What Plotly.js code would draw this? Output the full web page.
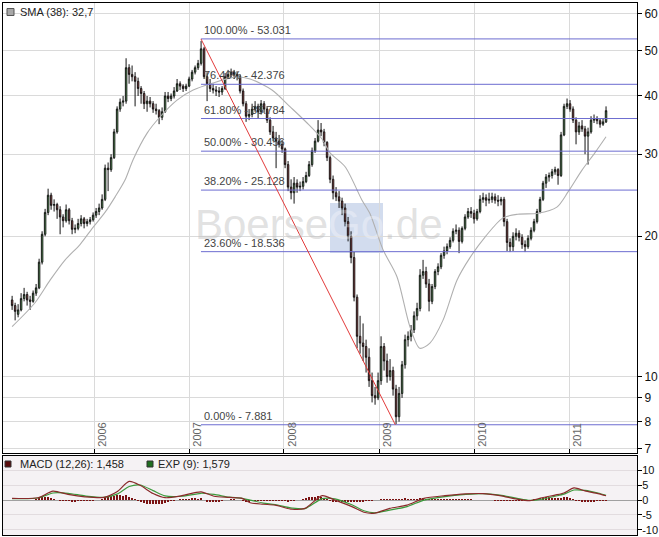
<!DOCTYPE html>
<html>
<head>
<meta charset="utf-8">
<script src="https://cdn.plot.ly/plotly-3.0.1.min.js"></script>
<style>html,body{margin:0;padding:0;background:#fff;}#chart{width:659px;height:537px;}</style>
</head>
<body>
<div id="chart"></div>
<script>
// ---------------- DATA ----------------
const candleStart = '2005-02-20';
const candleEnd = '2011-05-23';

const opens = [
14.6,14.2,13.6,13.9,14.7,15.0,14.6,14.5,15.1,15.5,
17.6,20.2,22.5,24.5,23.3,23.4,22.8,22.0,21.6,22.8,
21.6,20.7,20.8,21.3,21.8,21.3,21.5,21.7,22.2,22.6,
23.0,24.0,28.0,27.8,29.5,33.5,37.5,38.8,39.0,46.0,
44.5,44.0,43.0,41.5,40.5,38.5,39.0,38.5,37.5,37.2,
36.0,37.0,40.0,39.5,40.0,41.0,42.5,42.0,41.5,42.0,
43.5,45.0,46.0,47.0,50.5,44.0,42.5,41.5,41.2,41.0,
40.8,41.5,44.0,44.5,45.0,44.5,44.0,41.0,38.5,36.2,
36.5,37.5,38.0,37.0,38.5,37.5,35.5,33.5,32.5,32.0,
31.5,30.8,28.5,25.5,24.8,26.0,25.5,25.6,26.2,27.0,
28.5,30.5,32.0,33.8,33.5,31.8,29.5,26.5,24.8,24.3,
23.8,23.0,21.5,20.0,18.0,14.8,12.2,11.8,11.6,11.0,
9.8,9.1,9.0,9.8,11.6,10.8,10.0,10.3,9.4,8.2,
9.2,10.6,12.0,12.2,12.6,13.5,14.0,16.5,16.8,15.8,
14.5,15.6,16.8,17.2,18.2,18.6,19.0,19.6,20.5,20.6,
19.5,20.8,22.0,22.6,22.4,21.8,22.6,24.0,24.2,23.9,
24.0,24.3,23.9,23.8,24.0,21.5,19.4,19.0,20.0,20.3,
19.9,19.2,19.0,19.8,20.6,21.5,22.6,24.0,26.0,26.8,
27.0,27.5,27.8,27.0,33.0,38.0,38.5,37.5,35.5,33.5,
34.5,34.0,32.8,33.5,35.5,35.8,35.4,34.8,35.2];

const highs = [
14.9,14.4,14.3,15.1,15.5,15.2,14.9,15.3,15.8,17.9,
20.5,22.9,25.3,24.8,24.0,23.6,23.2,22.3,23.4,23.0,
21.9,21.2,21.8,22.2,22.0,21.8,22.0,22.5,23.0,23.5,
24.6,28.5,28.8,30.0,34.0,38.0,39.5,40.0,48.2,46.8,
46.5,45.0,43.8,42.0,41.0,40.0,39.8,39.0,38.5,37.5,
37.8,40.8,40.8,40.5,41.8,43.5,43.0,42.4,42.5,44.0,
45.5,46.5,47.8,52.5,51.0,45.0,43.5,42.5,42.0,41.8,
42.0,44.8,45.5,45.8,45.5,45.2,44.5,41.5,39.0,37.5,
38.5,39.0,38.5,39.2,39.0,38.0,36.0,34.5,33.5,33.0,
32.2,31.0,29.0,26.5,26.8,26.5,26.2,26.8,27.5,29.0,
31.0,32.5,35.5,35.0,34.0,32.0,29.8,27.0,25.5,25.0,
24.2,23.5,22.0,20.5,18.5,15.0,13.5,13.0,12.0,11.5,
10.2,9.5,10.2,12.2,11.8,11.2,10.9,10.5,9.6,9.5,
10.8,12.3,12.5,12.9,13.8,14.4,17.0,17.8,17.2,16.2,
15.8,17.0,17.5,18.4,19.0,19.3,19.9,20.8,21.2,20.9,
21.0,22.3,23.0,23.1,22.8,22.9,24.5,24.8,24.6,24.8,
24.8,24.7,24.5,24.3,24.3,21.8,19.8,20.4,20.8,20.6,
20.2,19.6,20.1,20.9,21.8,22.9,24.3,26.3,27.2,27.4,
27.9,28.2,28.0,33.5,38.5,39.5,39.2,38.0,36.0,35.2,
35.5,34.5,34.2,36.2,36.5,36.2,35.8,35.8,38.0];

const lows = [
13.9,13.2,13.4,13.8,14.5,14.2,13.9,14.4,14.9,15.4,
17.4,20.0,22.2,22.8,22.6,21.8,20.2,20.9,21.4,21.2,
20.2,20.3,20.6,21.0,20.8,21.0,21.2,21.5,21.9,22.2,
22.8,23.8,25.0,27.5,29.3,33.2,37.0,38.0,38.5,42.5,
43.0,38.0,40.0,38.5,37.5,37.0,37.8,36.8,36.5,34.8,
35.5,36.8,38.8,39.0,39.5,40.8,41.2,40.8,41.0,41.8,
43.0,44.5,45.5,46.5,43.5,39.0,40.8,40.5,40.0,39.8,
40.2,41.2,43.5,43.8,43.5,43.2,40.5,38.0,35.2,35.5,
36.0,37.0,35.8,36.5,36.8,35.0,33.0,32.0,28.0,31.0,
30.2,28.0,25.0,24.0,23.5,24.8,25.0,25.2,26.0,26.8,
28.2,30.2,31.8,32.8,31.2,29.0,26.0,24.0,23.8,23.0,
22.2,21.0,19.5,17.5,14.5,11.5,11.2,10.8,10.2,9.5,
8.8,8.7,8.9,9.6,10.3,9.7,9.8,9.1,7.9,8.0,
9.0,10.4,11.6,11.9,12.4,13.2,13.8,16.2,15.5,13.8,
14.3,15.4,16.5,17.0,17.9,18.3,18.8,19.4,20.2,18.4,
19.3,20.6,21.8,21.9,21.3,21.6,22.4,23.6,23.2,23.5,
23.6,23.5,23.2,23.3,21.0,18.6,18.5,18.6,19.6,19.5,
18.8,18.5,18.8,19.6,20.4,21.3,22.4,23.8,25.4,26.2,
26.6,27.1,25.8,26.8,32.8,37.5,37.0,35.0,31.5,33.0,
33.5,30.0,28.5,33.2,35.0,34.8,34.2,34.5,35.0];

const closes = [
14.2,13.8,13.9,14.7,15.0,14.6,14.5,15.1,15.5,17.6,
20.2,22.5,24.5,23.3,23.4,22.8,22.0,21.6,22.8,21.6,
20.7,20.8,21.3,21.8,21.3,21.5,21.7,22.2,22.6,23.0,
24.0,28.0,27.8,29.5,33.5,37.5,38.8,39.0,46.0,44.5,
44.0,43.0,41.5,40.5,38.5,39.0,38.5,37.5,37.2,36.0,
37.0,40.0,39.5,40.0,41.0,42.5,42.0,41.5,42.0,43.5,
45.0,46.0,47.0,50.5,44.0,42.5,41.5,41.2,41.0,40.8,
41.5,44.0,44.5,45.0,44.5,44.0,41.0,38.5,36.2,36.5,
37.5,38.0,37.0,38.5,37.5,35.5,33.5,32.5,32.0,31.5,
30.8,28.5,25.5,24.8,26.0,25.5,25.6,26.2,27.0,28.5,
30.5,32.0,33.8,33.5,31.8,29.5,26.5,24.8,24.3,23.8,
23.0,21.5,20.0,18.0,14.8,12.2,11.8,11.6,11.0,9.8,
9.1,9.0,9.8,11.6,10.8,10.0,10.3,9.4,8.2,9.2,
10.6,12.0,12.2,12.6,13.5,14.0,16.5,16.8,15.8,14.5,
15.6,16.8,17.2,18.2,18.6,19.0,19.6,20.5,20.6,19.5,
20.8,22.0,22.6,22.4,21.8,22.6,24.0,24.2,23.9,24.0,
24.3,23.9,23.8,24.0,21.5,19.4,19.0,20.0,20.3,19.9,
19.2,19.0,19.8,20.6,21.5,22.6,24.0,26.0,26.8,27.0,
27.5,27.8,27.0,33.0,38.0,38.5,37.5,35.5,33.5,34.5,
34.0,32.8,33.5,35.5,35.8,35.4,34.8,35.2,37.2];

const macdHist = [
0.05,0.1,0.05,0.1,0.1,0.05,0,0.05,0.2,0.6,
0.9,1.0,0.9,0.6,0.3,0.1,-0.2,-0.4,-0.3,-0.4,
-0.5,-0.5,-0.4,-0.4,-0.4,-0.3,-0.3,-0.2,-0.1,0.1,
0.4,1.0,1.2,1.4,1.5,1.6,1.7,1.5,1.6,1.2,
0.8,0.3,-0.2,-0.6,-1.0,-1.2,-1.3,-1.4,-1.4,-1.3,
-1.2,-0.9,-0.7,-0.4,-0.2,0,0.2,0.3,0.4,0.5,
0.6,0.6,0.5,0.6,0,-0.5,-0.6,-0.6,-0.5,-0.5,
-0.3,0,0.1,0.2,0.2,0.1,-0.1,-0.4,-0.6,-0.5,
-0.4,-0.3,-0.3,-0.2,-0.2,-0.3,-0.4,-0.4,-0.4,-0.3,
-0.3,-0.4,-0.5,-0.4,-0.2,-0.1,0.1,0.3,0.6,0.9,
1.1,1.2,1.3,1.1,0.7,0.2,-0.3,-0.5,-0.6,-0.6,
-0.6,-0.6,-0.6,-0.6,-0.7,-0.7,-0.6,-0.5,-0.4,-0.3,
-0.2,-0.1,0.1,0.4,0.4,0.3,0.3,0.3,0.3,0.4,
0.5,0.6,0.5,0.5,0.5,0.5,0.6,0.6,0.5,0.4,
0.4,0.4,0.4,0.5,0.5,0.5,0.5,0.5,0.4,0.3,
0.3,0.3,0.3,0.2,0.1,0.1,0.1,0.1,0,0,
-0.1,-0.2,-0.2,-0.2,-0.3,-0.4,-0.4,-0.3,-0.3,-0.3,
-0.3,-0.2,-0.1,0,0.2,0.4,0.6,0.8,0.9,0.9,
0.8,0.8,0.6,0.8,1.1,1.0,0.6,0.2,-0.2,-0.4,
-0.5,-0.6,-0.6,-0.5,-0.5,-0.4,-0.4,-0.3,-0.2];

const smaDates = ['2005-02-20','2005-05-19','2005-07-16','2005-09-12','2005-11-08','2005-12-28',
'2006-02-12','2006-03-23','2006-04-30','2006-05-31','2006-07-24','2006-09-12','2006-11-16',
'2007-01-17','2007-03-31','2007-06-27','2007-08-24','2007-11-16',
'2008-01-25','2008-03-30','2008-05-27','2008-06-26','2008-08-23','2008-10-27','2008-11-26',
'2009-01-16','2009-03-10','2009-04-29','2009-06-06','2009-07-15','2009-09-03','2009-10-27','2009-12-16',
'2010-02-11','2010-04-22','2010-06-18','2010-09-03','2010-11-15','2010-12-28',
'2011-02-19','2011-04-10','2011-05-23'];
const smaValues = [12.8,14.4,16.1,17.8,19.2,20.9,
22.5,24.3,26.4,29.2,33.3,36.1,39.2,
41.2,42.6,43.9,43.5,41.2,
37.9,35.0,32.3,30.2,28.2,23.9,22.4,
18.7,16.4,12.8,11.5,11.8,13.2,16.1,18.0,
19.9,21.9,22.3,22.4,23.1,24.9,
27.7,30.2,32.7];

const macdDates = ['2005-02-20','2005-05-31','2005-07-27','2005-09-23','2005-11-27',
'2006-02-08','2006-03-30','2006-05-16','2006-06-27','2006-08-16','2006-10-01','2006-12-05',
'2007-02-16','2007-04-07','2007-06-04','2007-07-24','2007-08-24','2007-10-13','2007-11-28',
'2008-02-01','2008-03-22','2008-05-27','2008-07-15','2008-09-18','2008-11-03','2008-12-15',
'2009-02-11','2009-04-18','2009-06-22','2009-09-11','2009-11-30',
'2010-02-04','2010-04-10','2010-06-15','2010-08-03','2010-09-19','2010-11-08','2010-12-12',
'2011-01-20','2011-03-03','2011-04-22','2011-05-23'];
const macdValues = [0.6,0.8,3.0,1.9,1.1,0.9,2.8,6.3,5.0,2.2,0.8,1.5,2.8,1.3,0.9,0.6,-0.9,-1.4,-1.7,-3.1,
-2.8,1.5,0.0,-2.2,-4.1,-4.4,-2.8,-1.7,0.6,1.5,2.1,2.2,1.5,0.3,-0.2,0.8,1.7,2.4,4.1,3.1,2.2,1.458];
const signalValues = [0.5,0.7,2.4,2.3,1.4,0.9,2.0,4.6,5.1,3.2,1.4,1.3,2.3,1.9,1.0,0.6,0.0,-1.0,-1.5,-2.7,
-2.9,0.5,0.4,-1.6,-3.6,-4.3,-3.4,-2.2,0.0,1.2,1.9,2.2,1.7,0.6,-0.1,0.3,1.3,2.0,3.4,3.3,2.4,1.579];

const fibPercents = ['100.00%','76.40%','61.80%','50.00%','38.20%','23.60%','0.00%'];
const fibLevels = [53.031,42.376,35.784,30.456,25.128,18.536,7.881];
const fibStartDate = '2007-02-16';
const trendDates = ['2007-02-16','2009-03-04'];
const trendValues = [53.031,7.881];

const yearDates = ['2006-01-01','2007-01-01','2008-01-01','2009-01-01','2010-01-01','2011-01-01'];
const yearLabels = ['2006','2007','2008','2009','2010','2011'];
const priceTicks = [7,8,9,10,20,30,40,50,60];
const macdTicks = [-10,-5,0,5,10];
const macdTickLabels = ['-10','-5','0','5','10'];

const smaLabel = 'SMA (38): 32,7';
const macdLabel = 'MACD (12,26): 1,458';
const expLabel = 'EXP (9): 1,579';

// ---------------- BUILD ----------------
const xRange = ['2005-01-16','2011-09-19'];
const t0 = Date.parse(candleStart + 'T00:00:00Z'), t1 = Date.parse(candleEnd + 'T00:00:00Z');
const n = closes.length;
const fmt = ms => new Date(ms).toISOString().slice(0,19).replace('T',' ');
const candleDates = closes.map((_, i) => fmt(t0 + (t1 - t0) * i / (n - 1)));

// pixel helpers for layout decorations (plot area spans x 3..637, y 3..535)
const PL = 3, PR = 637, PT = 3, PB = 535;
const px = x => (x - PL) / (PR - PL);
const py = y => (PB - y) / (PB - PT);

const FONT = 'Liberation Sans, Arial, sans-serif';
const fibColor = '#6c6cd0';

const traces = [];
traces.push({type:'scatter', mode:'lines', x:smaDates, y:smaValues, xaxis:'x', yaxis:'y',
  line:{color:'#b0b0b0', width:1.1, shape:'spline', smoothing:0.8}, hoverinfo:'skip'});
traces.push({type:'candlestick', x:candleDates, open:opens, high:highs, low:lows, close:closes,
  xaxis:'x', yaxis:'y', whiskerwidth:0,
  increasing:{line:{color:'#141414', width:1}, fillcolor:'#6fcf6f'},
  decreasing:{line:{color:'#141414', width:1}, fillcolor:'#c94a4a'},
  hoverinfo:'skip'});
fibLevels.forEach(v => {
  traces.push({type:'scatter', mode:'lines', x:[fibStartDate, xRange[1]], y:[v, v], xaxis:'x', yaxis:'y',
    line:{color:fibColor, width:1}, hoverinfo:'skip'});
});
traces.push({type:'scatter', mode:'lines', x:trendDates, y:trendValues, xaxis:'x', yaxis:'y',
  line:{color:'#e23a3a', width:1}, hoverinfo:'skip'});

// MACD panel
traces.push({type:'bar', x:candleDates, y:macdHist, xaxis:'x2', yaxis:'y2',
  marker:{color:'#7a1212', line:{width:0}}, width:7*86400000, hoverinfo:'skip'});
traces.push({type:'scatter', mode:'lines', x:macdDates, y:signalValues, xaxis:'x2', yaxis:'y2',
  line:{color:'#3c9a3c', width:1.2, shape:'spline', smoothing:0.7}, hoverinfo:'skip'});
traces.push({type:'scatter', mode:'lines', x:macdDates, y:macdValues, xaxis:'x2', yaxis:'y2',
  line:{color:'#8a2a2a', width:1.2, shape:'spline', smoothing:0.7}, hoverinfo:'skip'});

const annotations = [];
fibLevels.forEach((v, i) => {
  annotations.push({xref:'x', yref:'y', x:fibStartDate, y:Math.log10(v), xanchor:'left', yanchor:'bottom',
    xshift:1, yshift:1, showarrow:false, text:fibPercents[i] + ' - ' + v.toFixed(3),
    font:{family:FONT, size:11, color:'#444'}});
});
yearDates.forEach((d, i) => {
  annotations.push({xref:'x', yref:'y domain', x:d, y:0, xanchor:'left', yanchor:'bottom', textangle:-90,
    xshift:0, yshift:4, showarrow:false, text:yearLabels[i], font:{family:FONT, size:11, color:'#666'}});
});
annotations.push({xref:'paper', yref:'paper', x:px(18), y:py(12), xanchor:'left', yanchor:'middle',
  showarrow:false, text:smaLabel, font:{family:FONT, size:11, color:'#222'}});
annotations.push({xref:'paper', yref:'paper', x:px(18), y:py(464), xanchor:'left', yanchor:'middle',
  showarrow:false, text:macdLabel, font:{family:FONT, size:11, color:'#222'}});
annotations.push({xref:'paper', yref:'paper', x:px(156), y:py(464), xanchor:'left', yanchor:'middle',
  showarrow:false, text:expLabel, font:{family:FONT, size:11, color:'#222'}});
annotations.push({xref:'paper', yref:'paper', x:px(319), y:py(225), xanchor:'center', yanchor:'middle',
  showarrow:false, text:"Boerse<span style='color:rgba(255,255,255,0.75)'>Go</span>.de",
  font:{family:FONT, size:42, color:'rgba(190,190,190,0.45)'}});

const shapes = [
  {type:'rect', xref:'paper', yref:'y2 domain', x0:0, x1:1, y0:0, y1:1, fillcolor:'#f5f2f4', line:{width:0}, layer:'below'},
  {type:'rect', xref:'paper', yref:'paper', x0:px(330), x1:px(383), y0:py(253), y1:py(203), fillcolor:'#d2dcee', line:{width:0}, layer:'below'},
  {type:'rect', xref:'paper', yref:'paper', x0:px(7), x1:px(14), y0:py(15.5), y1:py(8.5), fillcolor:'#a8a8a8', line:{color:'#555', width:1}},
  {type:'rect', xref:'paper', yref:'paper', x0:px(5), x1:px(11), y0:py(467), y1:py(461), fillcolor:'#5a0c0c', line:{color:'#333', width:1}},
  {type:'rect', xref:'paper', yref:'paper', x0:px(147), x1:px(153), y0:py(467), y1:py(461), fillcolor:'#1f6e1f', line:{color:'#333', width:1}}
];

const layout = {
  width:659, height:537,
  margin:{l:PL, r:659-PR, t:PT, b:537-PB, pad:0},
  paper_bgcolor:'#ffffff', plot_bgcolor:'#ffffff',
  showlegend:false,
  font:{family:FONT, size:11, color:'#222'},
  xaxis:{domain:[0,1], anchor:'y', type:'date', range:xRange, tickvals:yearDates, showticklabels:false,
    ticks:'inside', ticklen:4, tickcolor:'#000', showgrid:true, gridcolor:'#dadada', gridwidth:1,
    showline:true, linecolor:'#000', linewidth:1, mirror:true, zeroline:false, rangeslider:{visible:false}},
  yaxis:{domain:[py(452.7),1], anchor:'x', type:'log', range:[0.8366,1.8016], side:'right',
    tickvals:priceTicks, ticktext:priceTicks.map(String), ticks:'outside', ticklen:4, tickcolor:'#000',
    tickfont:{family:FONT, size:12, color:'#111'}, showgrid:true, gridcolor:'#dadada',
    showline:true, linecolor:'#000', linewidth:1, mirror:true, zeroline:false, ticklabeloverflow:'allow'},
  xaxis2:{domain:[0,1], anchor:'y2', type:'date', matches:'x', showticklabels:false, showgrid:false, ticks:'',
    showline:true, linecolor:'#000', linewidth:1, mirror:true, zeroline:false, rangeslider:{visible:false}},
  yaxis2:{domain:[0,py(456)], anchor:'x2', range:[-11.8,14.9], side:'right', tickvals:macdTicks,
    ticktext:macdTickLabels, ticklabelstandoff:-2,
    ticks:'outside', ticklen:4, tickcolor:'#000', tickfont:{family:FONT, size:11, color:'#111'},
    showgrid:true, gridcolor:'#e2dcdf', zeroline:true, zerolinecolor:'#a0a0a0', zerolinewidth:1,
    showline:true, linecolor:'#000', linewidth:1, mirror:true, ticklabeloverflow:'allow'},
  bargap:0,
  annotations:annotations,
  shapes:shapes
};

Plotly.newPlot('chart', traces, layout, {staticPlot:true, displayModeBar:false});
</script>
</body>
</html>
